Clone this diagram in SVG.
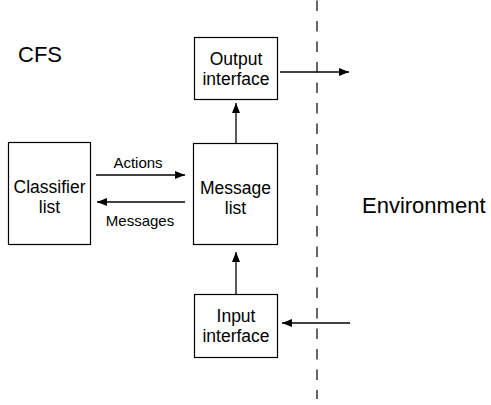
<svg xmlns="http://www.w3.org/2000/svg" width="491" height="405" viewBox="0 0 491 405">
  <defs>
    <marker id="arrow" viewBox="0 0 10 8" refX="10" refY="4" markerWidth="10" markerHeight="8" markerUnits="userSpaceOnUse" orient="auto">
      <path d="M0,0 L10,4 L0,8 Z" fill="#000"/>
    </marker>
    <style>
      text { font-family: "Liberation Sans", Arial, sans-serif; fill: #000; }
      .box { fill: #fff; stroke: #000; stroke-width: 1.2; }
      .lbl { font-size: 17.5px; text-anchor: middle; }
      .edge { font-size: 15px; text-anchor: middle; }
      .big { font-size: 22px; }
      .conn { stroke: #000; stroke-width: 1.3; fill: none; marker-end: url(#arrow); }
      .boundary { stroke: #000; stroke-width: 1.2; stroke-dasharray: 10.5 10; }
    </style>
  </defs>

  <rect width="491" height="405" fill="#fff"/>

  <!-- system / environment boundary -->
  <line class="boundary" x1="317" y1="0.5" x2="317" y2="399"/>

  <text class="big" x="18" y="62">CFS</text>
  <text class="big" x="362" y="213">Environment</text>

  <g id="classifier-list">
    <rect class="box" x="8.5" y="142.5" width="82" height="102"/>
    <text class="lbl" x="49.5" y="193">Classifier</text>
    <text class="lbl" x="49.5" y="213">list</text>
  </g>

  <g id="message-list">
    <rect class="box" x="193.5" y="143.5" width="84" height="101"/>
    <text class="lbl" x="235.5" y="194">Message</text>
    <text class="lbl" x="235.5" y="214">list</text>
  </g>

  <g id="output-interface">
    <rect class="box" x="194.5" y="37.5" width="83" height="62"/>
    <text class="lbl" x="236" y="65">Output</text>
    <text class="lbl" x="236" y="85">interface</text>
  </g>

  <g id="input-interface">
    <rect class="box" x="194.5" y="294.5" width="83" height="63"/>
    <text class="lbl" x="236" y="322">Input</text>
    <text class="lbl" x="236" y="342">interface</text>
  </g>

  <g id="connectors">
    <line class="conn" x1="96" y1="175" x2="185" y2="175"/>
    <text class="edge" x="138" y="168">Actions</text>
    <line class="conn" x1="185" y1="202" x2="97" y2="202"/>
    <text class="edge" x="140" y="226">Messages</text>
    <line class="conn" x1="236" y1="143" x2="236" y2="103"/>
    <line class="conn" x1="236" y1="294" x2="236" y2="252"/>
    <line class="conn" x1="280" y1="72" x2="349" y2="72"/>
    <line class="conn" x1="350" y1="323" x2="282" y2="323"/>
  </g>
</svg>
